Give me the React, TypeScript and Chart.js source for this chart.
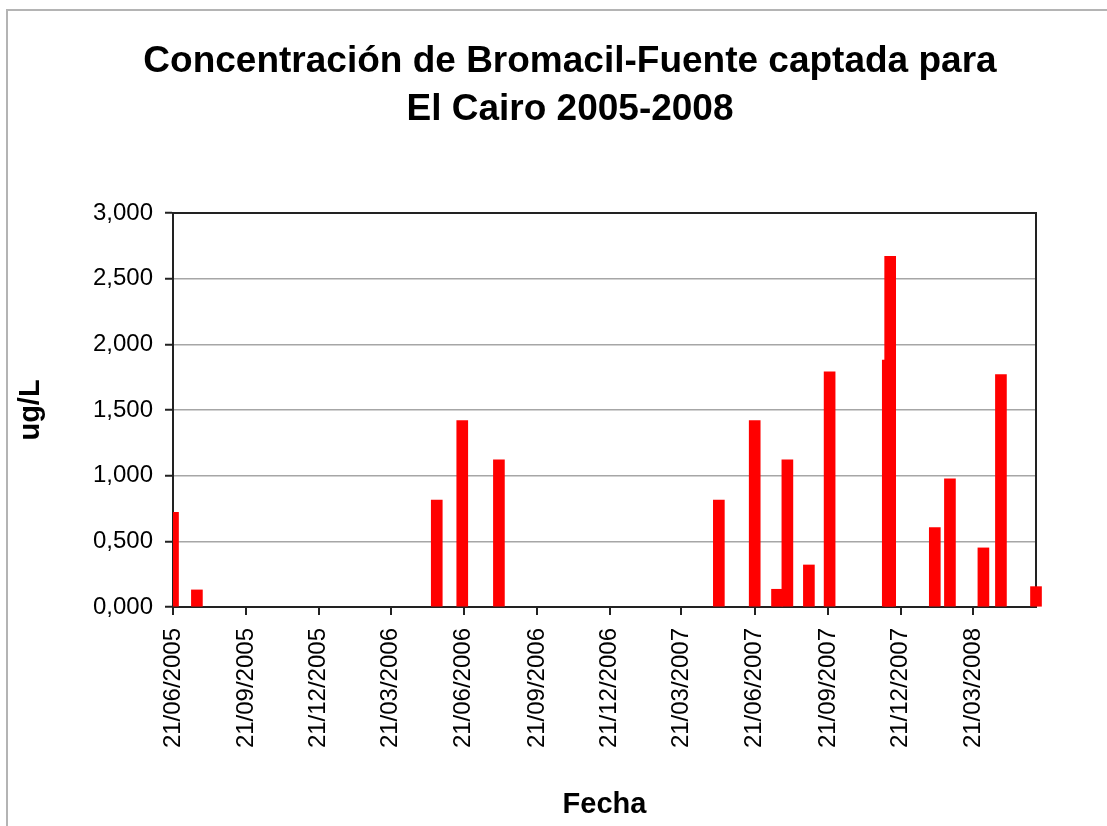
import React, { useEffect, useRef } from "react";
import { Chart, registerables } from "chart.js";

Chart.register(...registerables);

// Sample dates (dd/mm/yyyy) and Bromacil concentrations (ug/L)
const sampleDates = [
  "21/06/2005",
  "21/07/2005",
  "18/05/2006",
  "19/06/2006",
  "04/08/2006",
  "07/05/2007",
  "21/06/2007",
  "19/07/2007",
  "01/08/2007",
  "28/08/2007",
  "23/09/2007",
  "05/12/2007",
  "08/12/2007",
  "02/02/2008",
  "21/02/2008",
  "03/04/2008",
  "25/04/2008",
  "08/06/2008",
];
const concentrations = [
  0.72, 0.13, 0.815, 1.42, 1.12, 0.815, 1.42, 0.135, 1.12, 0.32, 1.79, 1.88,
  2.67, 0.605, 0.975, 0.45, 1.77, 0.155,
];
const xTickLabels = [
  "21/06/2005",
  "21/09/2005",
  "21/12/2005",
  "21/03/2006",
  "21/06/2006",
  "21/09/2006",
  "21/12/2006",
  "21/03/2007",
  "21/06/2007",
  "21/09/2007",
  "21/12/2007",
  "21/03/2008",
];
const titleLines = ["Concentración de Bromacil-Fuente captada para", "El Cairo 2005-2008"];
const yAxisTitle = "ug/L";
const xAxisTitle = "Fecha";

const toDay = (s: string) => {
  const [d, m, y] = s.split("/").map(Number);
  return Date.UTC(y, m - 1, d) / 86400000;
};

const FONT = "'Liberation Sans', Arial, sans-serif";

const framePlugin = {
  id: "frame",
  beforeDatasetsDraw(chart: any) {
    const { ctx, chartArea: a } = chart;
    ctx.save();
    ctx.strokeStyle = "#222";
    ctx.lineWidth = 2;
    ctx.beginPath();
    ctx.moveTo(a.left, a.top);
    ctx.lineTo(a.right, a.top);
    ctx.lineTo(a.right, a.bottom);
    ctx.stroke();
    ctx.restore();
  },
};

export default function App() {
  const ref = useRef<HTMLCanvasElement | null>(null);

  useEffect(() => {
    if (!ref.current) return;
    const points = sampleDates.map((d, i) => ({ x: toDay(d), y: concentrations[i] }));
    const chart = new Chart(ref.current, {
      type: "bar",
      data: {
        datasets: [
          {
            data: points as any,
            backgroundColor: "#ff0000",
            borderWidth: 0,
            barThickness: 11,
            clip: { left: 0, top: 5, right: false, bottom: 0 } as any,
          },
        ],
      },
      plugins: [framePlugin],
      options: {
        responsive: false,
        animation: false,
        events: [],
        layout: { padding: { left: 0, right: 0, top: 0, bottom: 4.6 } },
        plugins: {
          legend: { display: false },
          tooltip: { enabled: false },
          title: {
            display: true,
            text: titleLines,
            color: "#000",
            font: { family: FONT, size: 37, weight: "bold", lineHeight: 1.297 },
            padding: { top: 27, bottom: 79 },
          },
        },
        scales: {
          x: {
            type: "linear",
            offset: false,
            min: toDay(sampleDates[0]),
            max: toDay(sampleDates[sampleDates.length - 1]),
            afterBuildTicks: (s: any) => {
              s.ticks = xTickLabels.map((l) => ({ value: toDay(l) }));
            },
            afterFit: (s: any) => {
              s.height = 215.4;
            },
            grid: {
              offset: false,
              drawOnChartArea: false,
              drawTicks: true,
              tickLength: 8,
              color: "#222",
              lineWidth: 2,
            },
            border: { color: "#222", width: 2 },
            ticks: {
              autoSkip: false,
              minRotation: 90,
              maxRotation: 90,
              padding: 13,
              color: "#000",
              font: { family: FONT, size: 24 },
              callback: (v: any) => {
                const l = xTickLabels.find((t) => toDay(t) === Number(v));
                return l ?? "";
              },
            },
            title: {
              display: true,
              text: xAxisTitle,
              color: "#000",
              font: { family: FONT, size: 29, weight: "bold", lineHeight: 1.2 },
              padding: { top: 0, bottom: 0 },
            },
          },
          y: {
            type: "linear",
            position: "left",
            min: 0,
            max: 3,
            afterFit: (s: any) => {
              s.width = 165;
            },
            grid: {
              color: "#a6a6a6",
              lineWidth: 1.5,
              tickColor: "#222",
              tickWidth: 2,
              tickLength: 8,
            },
            border: { color: "#222", width: 2 },
            ticks: {
              stepSize: 0.5,
              padding: 12,
              color: "#000",
              font: { family: FONT, size: 24 },
              callback: (v: any) => Number(v).toFixed(3).replace(".", ","),
            },
            title: {
              display: true,
              text: yAxisTitle,
              color: "#000",
              font: { family: FONT, size: 29, weight: "bold", lineHeight: 1.2 },
              padding: { top: 6, bottom: 0 },
            },
          },
          yR: {
            type: "linear",
            position: "right",
            display: true,
            afterFit: (s: any) => {
              s.width = 96;
            },
            grid: { display: false, drawTicks: false },
            border: { display: false },
            ticks: { display: false },
          },
        },
      } as any,
    });
    return () => chart.destroy();
  }, []);

  return (
    <div
      style={{
        position: "fixed",
        left: 0,
        top: 0,
        width: 1107,
        height: 826,
        overflow: "hidden",
        background: "#fff",
      }}
    >
      <div
        style={{
          position: "absolute",
          left: 6,
          top: 9,
          width: 1140,
          height: 840,
          borderLeft: "2px solid #b4b4b4",
          borderTop: "2px solid #b4b4b4",
        }}
      >
        <canvas
          ref={ref}
          width={1124}
          height={816}
          style={{ position: "absolute", left: 0, top: 0, width: 1124, height: 816 }}
        />
      </div>
    </div>
  );
}
